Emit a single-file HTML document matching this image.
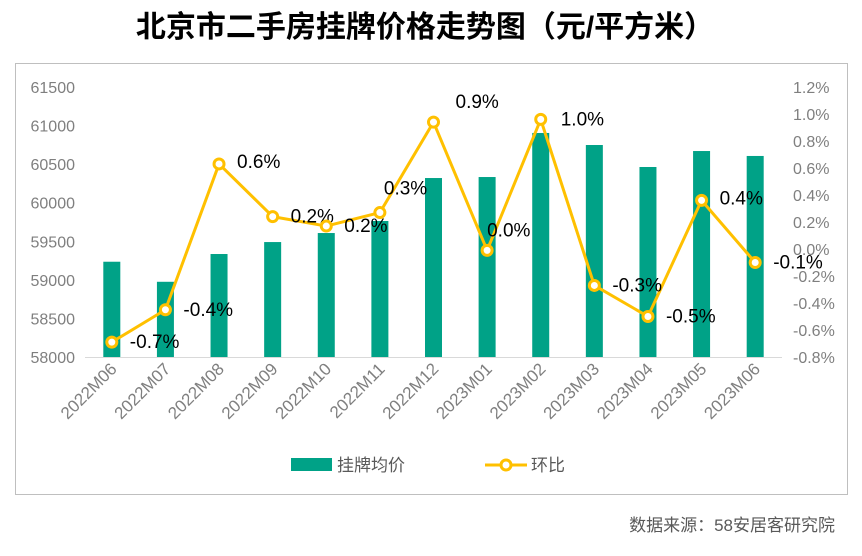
<!DOCTYPE html>
<html><head><meta charset="utf-8">
<style>
body{margin:0;background:#fff;width:862px;height:551px;overflow:hidden;font-family:"Liberation Sans","Noto Sans CJK SC",sans-serif;}
</style></head>
<body>
<svg width="862" height="551" xmlns="http://www.w3.org/2000/svg" font-family="Liberation Sans, Noto Sans CJK SC, sans-serif">
<text x="425" y="37" text-anchor="middle" font-size="30" font-weight="bold" fill="#000">北京市二手房挂牌价格走势图（元/平方米）</text>
<rect x="15.5" y="63.5" width="832" height="431" fill="none" stroke="#bfbfbf"/>
<g id="left-axis"></g>
<g id="right-axis"></g>
<g id="bars"></g>
<line x1="85" y1="357.5" x2="782" y2="357.5" stroke="#d9d9d9"/>
<g id="xlabels"></g>
<g id="line"></g>
<g>
<rect x="291" y="458" width="41" height="13" fill="#00a287"/>
<text x="337" y="471" font-size="17" fill="#595959">挂牌均价</text>
<line x1="485" y1="465" x2="527" y2="465" stroke="#ffc000" stroke-width="3"/>
<circle cx="506" cy="465" r="5" fill="#fff" stroke="#ffc000" stroke-width="3"/>
<text x="531" y="471" font-size="17" fill="#595959">环比</text>
</g>
<text x="835" y="531" text-anchor="end" font-size="17" fill="#595959">数据来源：58安居客研究院</text>
</svg>
<script>
const categories=["2022M06","2022M07","2022M08","2022M09","2022M10","2022M11","2022M12","2023M01","2023M02","2023M03","2023M04","2023M05","2023M06"];
const prices=[59235,58975,59335,59490,59607,59763,60320,60333,60904,60748,60463,60670,60606];
const changes=[-0.69,-0.45,0.63,0.24,0.17,0.27,0.94,-0.01,0.96,-0.27,-0.50,0.36,-0.10];
const changeLabels=["-0.7%","-0.4%","0.6%","0.2%","0.2%","0.3%","0.9%","0.0%","1.0%","-0.3%","-0.5%","0.4%","-0.1%"];
const leftTicks=[58000,58500,59000,59500,60000,60500,61000,61500];
const rightTicks=[-0.8,-0.6,-0.4,-0.2,0,0.2,0.4,0.6,0.8,1.0,1.2];
const NS="http://www.w3.org/2000/svg";
const x0=85,x1=782,yB=357,yT=87;
const step=(x1-x0)/categories.length;
const xc=i=>x0+step*(i+0.5);
const yL=v=>yB-(v-58000)/(61500-58000)*(yB-yT);
const yR=v=>yB-(v+0.8)/(2.0)*(yB-yT);
function mk(tag,attrs,parent){const e=document.createElementNS(NS,tag);for(const k in attrs)e.setAttribute(k,attrs[k]);parent.appendChild(e);return e;}
const la=document.getElementById('left-axis');
leftTicks.forEach(v=>{const t=mk('text',{x:75,y:yL(v)+6,'text-anchor':'end','font-size':16,fill:'#7f7f7f'},la);t.textContent=v;

});
const ra=document.getElementById('right-axis');
rightTicks.forEach(v=>{const t=mk('text',{x:793,y:yR(v)+6,'font-size':16,fill:'#7f7f7f'},ra);t.textContent=v.toFixed(1)+'%';

});
const bg=document.getElementById('bars');
prices.forEach((v,i)=>{const r=mk('rect',{x:xc(i)-8.5,y:yL(v),width:17,height:yB-yL(v),fill:'#00a287'},bg);

});
const xl=document.getElementById('xlabels');
categories.forEach((c,i)=>{const x=xc(i)+6,y=370;const t=mk('text',{x:x,y:y,'text-anchor':'end','font-size':17,fill:'#7f7f7f',transform:`rotate(-45 ${x} ${y})`},xl);t.textContent=c;

});
const lg=document.getElementById('line');
const pts=changes.map((v,i)=>xc(i)+','+yR(v)).join(' ');
const pl=mk('polyline',{points:pts,fill:'none',stroke:'#ffc000','stroke-width':3,'stroke-linejoin':'round'},lg);


const ldx=[18,18,18,18,18,4,22,0,20,18,18,18,18];
const ldy=[6,6,4,6,6,-18,-14,-14,6,6,6,4,6];
changes.forEach((v,i)=>{const c=mk('circle',{cx:xc(i),cy:yR(v),r:5,fill:'#fff',stroke:'#ffc000','stroke-width':3},lg);


const t=mk('text',{x:xc(i)+ldx[i],y:yR(v)+ldy[i],'font-size':19,fill:'#000'},lg);t.textContent=changeLabels[i];

});
</script>
</body></html>
